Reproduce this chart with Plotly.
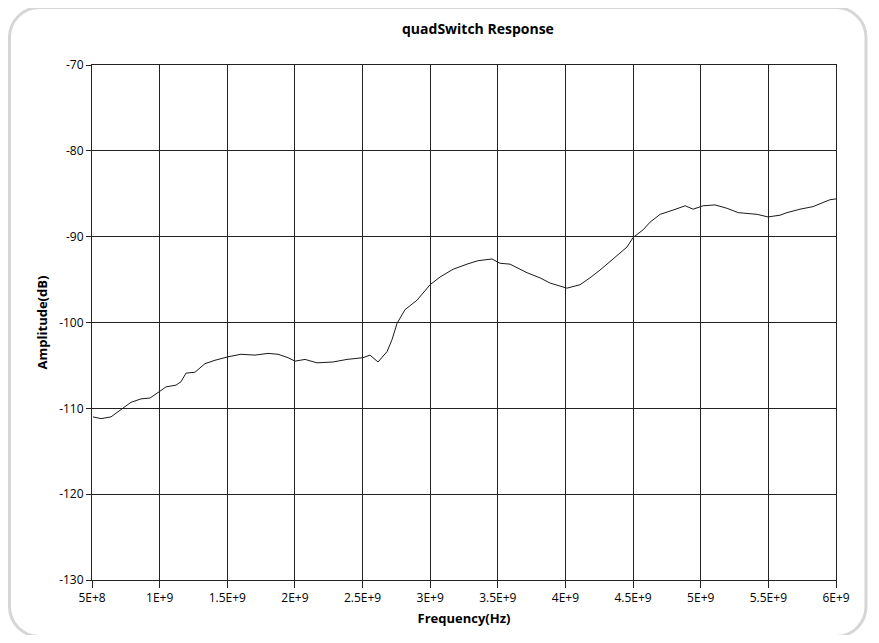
import plotly.graph_objects as go

# Data
freq_hz = [0.507e9, 0.567e9, 0.640e9, 0.714e9, 0.788e9, 0.862e9, 0.929e9, 1.003e9, 1.047e9,
           1.121e9, 1.158e9, 1.195e9, 1.261e9, 1.335e9, 1.409e9, 1.505e9, 1.601e9, 1.705e9,
           1.801e9, 1.875e9, 1.949e9, 2.001e9, 2.075e9, 2.163e9, 2.282e9, 2.385e9, 2.503e9,
           2.555e9, 2.614e9, 2.681e9, 2.718e9, 2.755e9, 2.814e9, 2.903e9, 2.999e9, 3.073e9,
           3.169e9, 3.272e9, 3.354e9, 3.457e9, 3.516e9, 3.590e9, 3.716e9, 3.812e9, 3.886e9,
           4.011e9, 4.108e9, 4.181e9, 4.255e9, 4.352e9, 4.455e9, 4.500e9, 4.574e9, 4.626e9,
           4.700e9, 4.796e9, 4.885e9, 4.944e9, 5.018e9, 5.106e9, 5.195e9, 5.277e9, 5.417e9,
           5.497e9, 5.586e9, 5.638e9, 5.734e9, 5.830e9, 5.955e9, 6.000e9]
amplitude_db = [-111.0, -111.2, -111.0, -110.2, -109.3, -108.9, -108.8, -108.0, -107.5,
                -107.3, -106.9, -105.9, -105.8, -104.8, -104.4, -104.0, -103.7, -103.8,
                -103.6, -103.7, -104.1, -104.5, -104.3, -104.7, -104.6, -104.3, -104.1,
                -103.8, -104.6, -103.4, -102.0, -100.1, -98.5, -97.4, -95.6, -94.7,
                -93.8, -93.2, -92.8, -92.6, -93.1, -93.2, -94.2, -94.8, -95.4,
                -96.0, -95.6, -94.8, -93.9, -92.6, -91.2, -90.1, -89.2, -88.3,
                -87.4, -86.9, -86.4, -86.8, -86.4, -86.3, -86.7, -87.2, -87.4,
                -87.7, -87.5, -87.2, -86.8, -86.5, -85.7, -85.6]

x_tick_vals = [5e8, 1e9, 1.5e9, 2e9, 2.5e9, 3e9, 3.5e9, 4e9, 4.5e9, 5e9, 5.5e9, 6e9]
x_tick_text = ["5E+8", "1E+9", "1.5E+9", "2E+9", "2.5E+9", "3E+9", "3.5E+9", "4E+9",
               "4.5E+9", "5E+9", "5.5E+9", "6E+9"]
y_tick_vals = [-130, -120, -110, -100, -90, -80, -70]
y_tick_text = ["-130", "-120", "-110", "-100", "-90", "-80", "-70"]

# The page body has an 8px margin, so work in figure pixels offset by 8
OFF = 8
W, H = 879 - 2 * OFF, 643 - 2 * OFF
L, R, T, B = 92 - OFF, 836 - OFF, 65 - OFF, 580 - OFF
FONT = "Open Sans, Noto Sans, sans-serif"

fig = go.Figure()
fig.add_trace(go.Scatter(x=freq_hz, y=amplitude_db, mode="lines",
                         line=dict(color="#1a1a1a", width=1), showlegend=False,
                         hoverinfo="x+y"))

def px2paper(px, py):
    # px, py are page pixels
    px -= OFF
    py -= OFF
    return (px - L) / (R - L), (B - py) / (B - T)

def rounded_rect_path(x0, y0, x1, y1, r):
    k = 0.45
    def p(x, y):
        a, b = px2paper(x, y)
        return f"{a:.5f},{b:.5f}"
    cmds = ["M " + p(x0 + r, y0), "L " + p(x1 - r, y0),
            "C " + p(x1 - r * k, y0) + " " + p(x1, y0 + r * k) + " " + p(x1, y0 + r),
            "L " + p(x1, y1 - r),
            "C " + p(x1, y1 - r * k) + " " + p(x1 - r * k, y1) + " " + p(x1 - r, y1),
            "L " + p(x0 + r, y1),
            "C " + p(x0 + r * k, y1) + " " + p(x0, y1 - r * k) + " " + p(x0, y1 - r),
            "L " + p(x0, y0 + r),
            "C " + p(x0, y0 + r * k) + " " + p(x0 + r * k, y0) + " " + p(x0 + r, y0),
            "Z"]
    return " ".join(cmds)

fig.add_shape(type="path", xref="paper", yref="paper",
              path=rounded_rect_path(9.5, 7.5, 866, 636.5, 30),
              line=dict(color="#d6d6d6", width=3), layer="below")

tx, ty = px2paper(478, 29)
fig.add_annotation(text="<b>quadSwitch Response</b>", xref="paper", yref="paper",
                   x=tx, y=ty, showarrow=False, xanchor="center", yanchor="middle",
                   font=dict(family=FONT, size=14, color="#000000"))

fig.update_layout(
    width=W, height=H,
    margin=dict(l=L, r=W - R, t=T, b=H - B),
    paper_bgcolor="white", plot_bgcolor="white",
    font=dict(family=FONT, size=12, color="#000000"),
    xaxis=dict(range=[5e8, 6e9], tickmode="array", tickvals=x_tick_vals,
               ticktext=x_tick_text, showgrid=True, gridcolor="#222222", gridwidth=1,
               showline=True, linecolor="#222222", linewidth=1, mirror=True,
               ticks="outside", ticklen=7, tickcolor="#222222", zeroline=False,
               tickfont=dict(family=FONT, size=12, color="#000000"),
               title=dict(text="<b>Frequency(Hz)</b>", standoff=8,
                          font=dict(family=FONT, size=13, color="#000000"))),
    yaxis=dict(range=[-130, -70], tickmode="array", tickvals=y_tick_vals,
               ticktext=y_tick_text,
               showgrid=True, gridcolor="#222222", gridwidth=1,
               showline=True, linecolor="#222222", linewidth=1, mirror=True,
               ticks="outside", ticklen=5, tickcolor="#222222", zeroline=False,
               tickfont=dict(family=FONT, size=12, color="#000000"),
               title=dict(text="<b>Amplitude(dB)</b>", standoff=8,
                          font=dict(family=FONT, size=13, color="#000000"))),
)

fig.write_html("out.html")
